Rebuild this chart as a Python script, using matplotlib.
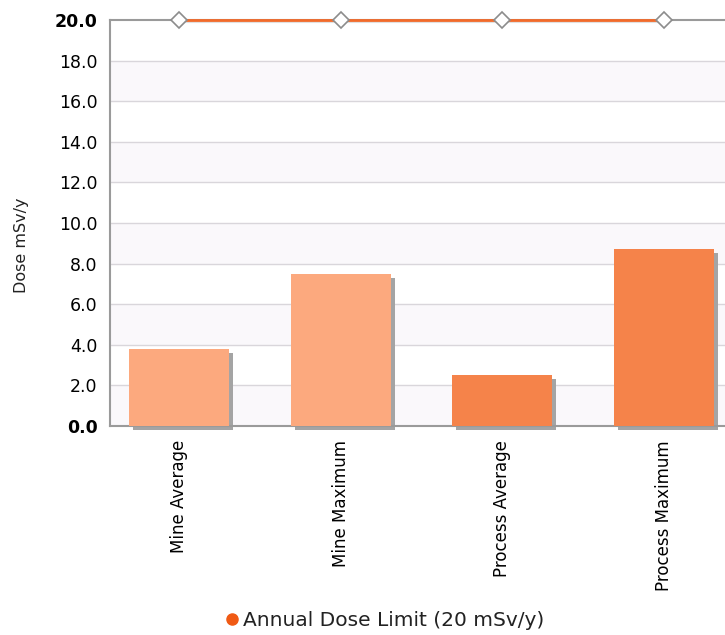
import matplotlib
matplotlib.use("Agg")
import matplotlib.pyplot as plt
import matplotlib.transforms as mtransforms
import numpy as np

categories = ["Mine Average", "Mine Maximum", "Process Average", "Process Maximum"]
dose = [3.8, 7.5, 2.5, 8.7]
bar_colors = ["#FCA97E", "#FCA97E", "#F5834A", "#F5834A"]
limit_value = 20.0
limit_label = "Annual Dose Limit (20 mSv/y)"
y_ticks = [0, 2, 4, 6, 8, 10, 12, 14, 16, 18, 20]

W, H = 725, 635
fig = plt.figure(figsize=(W / 100, H / 100), dpi=100)
ax = fig.add_axes([110 / W, (H - 426) / H, (W - 110) / W, (426 - 20) / H])

x = np.arange(len(categories))
ax.set_xlim(-0.427, 3.377)
ax.set_ylim(0, 20)

# alternating shaded bands
for lo in range(0, 20, 4):
    ax.axhspan(lo, lo + 2, facecolor="#faf8fb", edgecolor="none", zorder=0)
for t in y_ticks[1:-1]:
    ax.axhline(t, color="#d9d6db", lw=1, zorder=1)

# drop shadows behind bars
shadow_tr = ax.transData + mtransforms.ScaledTranslation(4 / 100, -4 / 100, fig.dpi_scale_trans)
ax.bar(x, dose, width=0.62, color="#a4a4a4", transform=shadow_tr, zorder=2, clip_on=False)
ax.bar(x, dose, width=0.62, color=bar_colors, zorder=3)

# annual limit line
line_shadow = ax.transData + mtransforms.ScaledTranslation(0, -2 / 100, fig.dpi_scale_trans)
ax.plot(x, [limit_value] * len(x), color="#e0e0e0", lw=1.5, transform=line_shadow,
        zorder=4, clip_on=False)
ax.plot(x, [limit_value] * len(x), color="#F26A2A", lw=2, zorder=5, clip_on=False,
        marker="D", markersize=8, markerfacecolor="white", markeredgecolor="#8c8c8c",
        markeredgewidth=1.2)

ax.spines["right"].set_visible(False)
for side in ["left", "bottom", "top"]:
    ax.spines[side].set_color("#9a9a9a")
    ax.spines[side].set_linewidth(1.5)

ax.set_yticks(y_ticks)
ax.set_yticklabels([f"{v:.1f}" for v in y_ticks], fontsize=12.5)
for lbl in ax.get_yticklabels():
    if lbl.get_text() in ("0.0", "20.0"):
        lbl.set_fontweight("bold")
ax.tick_params(axis="y", length=0, pad=9)
ax.set_xticks(x)
ax.set_xticklabels(categories, rotation=90, fontsize=12, va="top")
ax.tick_params(axis="x", length=0, pad=10)

fig.text(22 / W, 1 - 245 / H, "Dose mSv/y", rotation=90, fontsize=11.5,
         ha="center", va="center", color="#222222")

# legend
fig.lines.append(plt.Line2D([232 / W], [1 - 619 / H], marker="o", markersize=8,
                            color="#F05A14", transform=fig.transFigure))
fig.text(243 / W, 1 - 621 / H, limit_label, fontsize=14.5, ha="left", va="center",
         color="#222222")

fig.savefig("out.png", dpi=100)
